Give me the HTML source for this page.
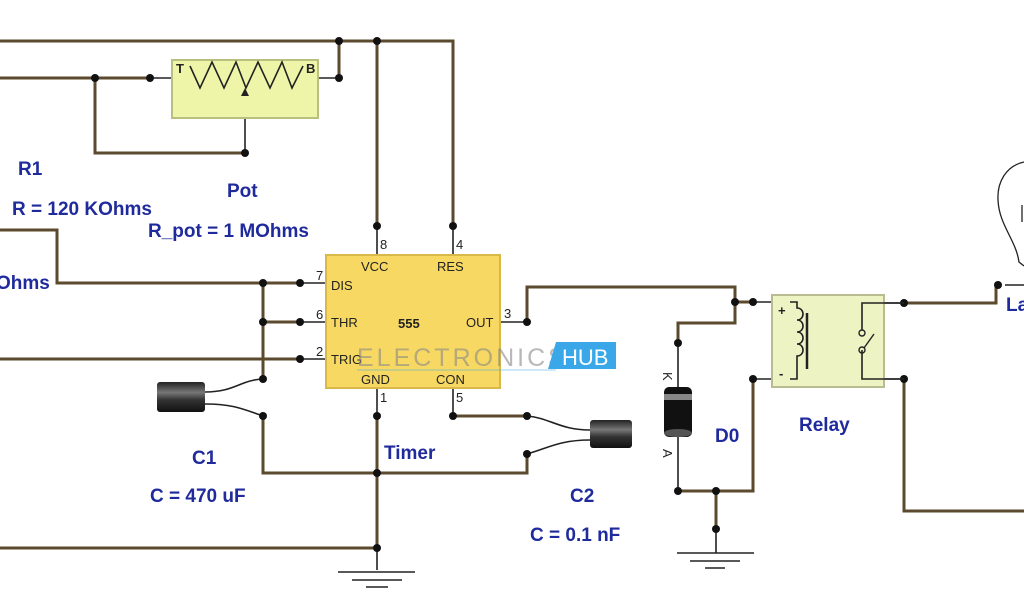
<!DOCTYPE html>
<html><head><meta charset="utf-8"><style>
html,body{margin:0;padding:0;background:#fff;width:1024px;height:600px;overflow:hidden}
svg{display:block}
.w{stroke:#5c4a2e;stroke-width:3;fill:none}
.t{stroke:#222;stroke-width:1.6;fill:none}
.lb{font-family:"Liberation Sans",sans-serif;font-weight:bold;fill:#1f2a9c;font-size:19px}
.pl{font-family:"Liberation Sans",sans-serif;fill:#222;font-size:13px}
</style></head><body>
<svg width="1024" height="600" viewBox="0 0 1024 600">
<defs>
<linearGradient id="cap" x1="0" y1="0" x2="0" y2="1"><stop offset="0" stop-color="#222"/><stop offset="0.35" stop-color="#777"/><stop offset="0.6" stop-color="#333"/><stop offset="1" stop-color="#111"/></linearGradient>
</defs>
<path class="w" d="M0 41H453V226M377 41V226M339 41V78"/>
<path class="w" d="M0 78H150M95 78V153H245"/>
<path class="w" d="M0 230H57V283H300M263 283V379M263 322H300M0 359H300"/>
<path class="w" d="M263 416V473H527V454M377 416V548M0 548H377"/>
<path class="w" d="M453 416H527"/>
<path class="w" d="M527 322V287H735V302H753M735 302V323H678V343"/>
<path class="w" d="M678 491H753V379M716 491V529"/>
<path class="w" d="M904 303H996V286M904 379V511H1024"/>
<path class="t" d="M150 78H172M318 78H339M245 153V90"/>
<path class="t" d="M377 227V255M453 227V255M300 283H326M300 322H326M300 359H326M500 322H527M377 388V416M453 388V416"/>
<path class="t" d="M377 548V570M338 572H415M352 580H402M366 587H388"/>
<path class="t" d="M716 529V553M677 553H754M690 561H740M705 568H725"/>
<path class="t" d="M678 343V390M678 437V491M753 302H790M753 379H790M884 303H904M884 379H904"/>
<path class="t" d="M205 392C235 392 240 380 263 379M205 404C235 404 245 410 263 416M590 430C560 430 550 418 527 416M590 440C560 440 548 448 527 454"/>
<path class="t" d="M1005 285H1024"/>
<path d="M1024 162C1006 166 997 182 998 200C999 225 1016 240 1019 262L1024 266M1022 205V222" stroke="#222" stroke-width="1.3" fill="none"/>
<g fill="#111">
<circle cx="339" cy="41" r="4"/><circle cx="377" cy="41" r="4"/><circle cx="339" cy="78" r="4"/><circle cx="95" cy="78" r="4"/><circle cx="150" cy="78" r="4"/><circle cx="245" cy="153" r="4"/>
<circle cx="377" cy="226" r="4"/><circle cx="453" cy="226" r="4"/>
<circle cx="263" cy="283" r="4"/><circle cx="300" cy="283" r="4"/><circle cx="263" cy="322" r="4"/><circle cx="300" cy="322" r="4"/><circle cx="300" cy="359" r="4"/>
<circle cx="263" cy="379" r="4"/><circle cx="263" cy="416" r="4"/><circle cx="377" cy="416" r="4"/><circle cx="453" cy="416" r="4"/><circle cx="527" cy="416" r="4"/><circle cx="527" cy="454" r="4"/><circle cx="377" cy="473" r="4"/><circle cx="377" cy="548" r="4"/>
<circle cx="527" cy="322" r="4"/><circle cx="735" cy="302" r="4"/><circle cx="753" cy="302" r="4"/><circle cx="678" cy="343" r="4"/><circle cx="753" cy="379" r="4"/>
<circle cx="678" cy="491" r="4"/><circle cx="716" cy="491" r="4"/><circle cx="716" cy="529" r="4"/>
<circle cx="904" cy="303" r="4"/><circle cx="904" cy="379" r="4"/><circle cx="998" cy="285" r="4"/>
</g>
<rect x="172" y="60" width="146" height="58" fill="#eef5a8" stroke="#b8c080" stroke-width="2"/>
<polyline points="190,66 200,88 212,62 224,88 236,62 246,88 258,62 270,88 282,62 292,88 303,66" fill="none" stroke="#222" stroke-width="1.6"/>
<path d="M245 88l-4 8h8z" fill="#222"/>
<text x="176" y="73" class="pl" font-weight="bold" font-size="11">T</text>
<text x="306" y="73" class="pl" font-weight="bold" font-size="11">B</text>
<rect x="326" y="255" width="174" height="133" fill="#f7d862" stroke="#d8b848" stroke-width="2"/>
<text x="361" y="271" class="pl">VCC</text><text x="437" y="271" class="pl">RES</text>
<text x="331" y="290" class="pl">DIS</text><text x="331" y="327" class="pl">THR</text><text x="331" y="364" class="pl">TRIG</text>
<text x="466" y="327" class="pl">OUT</text><text x="361" y="384" class="pl">GND</text><text x="436" y="384" class="pl">CON</text>
<text x="398" y="328" class="pl" font-weight="bold" font-size="16">555</text>
<text x="380" y="249" class="pl" font-size="11">8</text><text x="456" y="249" class="pl" font-size="11">4</text>
<text x="316" y="280" class="pl" font-size="11">7</text><text x="316" y="319" class="pl" font-size="11">6</text><text x="316" y="356" class="pl" font-size="11">2</text>
<text x="504" y="318" class="pl" font-size="11">3</text><text x="380" y="402" class="pl" font-size="11">1</text><text x="456" y="402" class="pl" font-size="11">5</text>
<text x="357" y="366" font-family="Liberation Sans,sans-serif" font-size="25" fill="#888" fill-opacity="0.6" letter-spacing="3">ELECTRONICS</text>
<path d="M556 342H616V369H548Z" fill="#3aa8e8"/>
<text x="562" y="365" font-family="Liberation Sans,sans-serif" font-size="22" fill="#fff">HUB</text>
<line x1="357" y1="370" x2="556" y2="370" stroke="#3aa8e8" stroke-width="1" opacity="0.5"/>
<rect x="157" y="382" width="48" height="30" rx="3" fill="url(#cap)"/>
<rect x="590" y="420" width="42" height="28" rx="3" fill="url(#cap)"/>
<rect x="664" y="387" width="28" height="50" rx="5" fill="#111"/>
<rect x="664" y="394" width="28" height="6" fill="#888"/>
<ellipse cx="678" cy="433" rx="14" ry="4" fill="#555"/>
<text x="0" y="0" class="pl" font-size="13" transform="translate(663,372) rotate(90)">K</text>
<text x="0" y="0" class="pl" font-size="13" transform="translate(663,449) rotate(90)">A</text>
<rect x="772" y="295" width="112" height="92" fill="#eef3c4" stroke="#b8bc90" stroke-width="2"/>
<path d="M790 302H797V308c8 0 8 12 0 12c8 0 8 12 0 12c8 0 8 12 0 12c8 0 8 12 0 12V379H790" fill="none" stroke="#222" stroke-width="1.6"/>
<line x1="807" y1="313" x2="807" y2="369" stroke="#222" stroke-width="2.5"/>
<path d="M904 303H862V330M862 350V379H904" fill="none" stroke="#222" stroke-width="1.6"/>
<circle cx="862" cy="333" r="3" fill="none" stroke="#222" stroke-width="1.4"/><circle cx="862" cy="350" r="3" fill="none" stroke="#222" stroke-width="1.4"/>
<line x1="864" y1="348" x2="874" y2="334" stroke="#222" stroke-width="1.4"/>
<text x="778" y="315" class="pl" font-weight="bold" font-size="12">+</text><text x="779" y="378" class="pl" font-weight="bold" font-size="12">-</text>
<text x="18" y="175" class="lb">R1</text>
<text x="12" y="215" class="lb">R = 120 KOhms</text>
<text x="227" y="197" class="lb">Pot</text>
<text x="148" y="237" class="lb">R_pot = 1 MOhms</text>
<text x="-4" y="289" class="lb">Ohms</text>
<text x="384" y="459" class="lb">Timer</text>
<text x="192" y="464" class="lb">C1</text>
<text x="150" y="502" class="lb">C = 470 uF</text>
<text x="570" y="502" class="lb">C2</text>
<text x="530" y="541" class="lb">C = 0.1 nF</text>
<text x="715" y="442" class="lb">D0</text>
<text x="799" y="431" class="lb">Relay</text>
<text x="1006" y="311" class="lb">La</text>
</svg>
</body></html>
